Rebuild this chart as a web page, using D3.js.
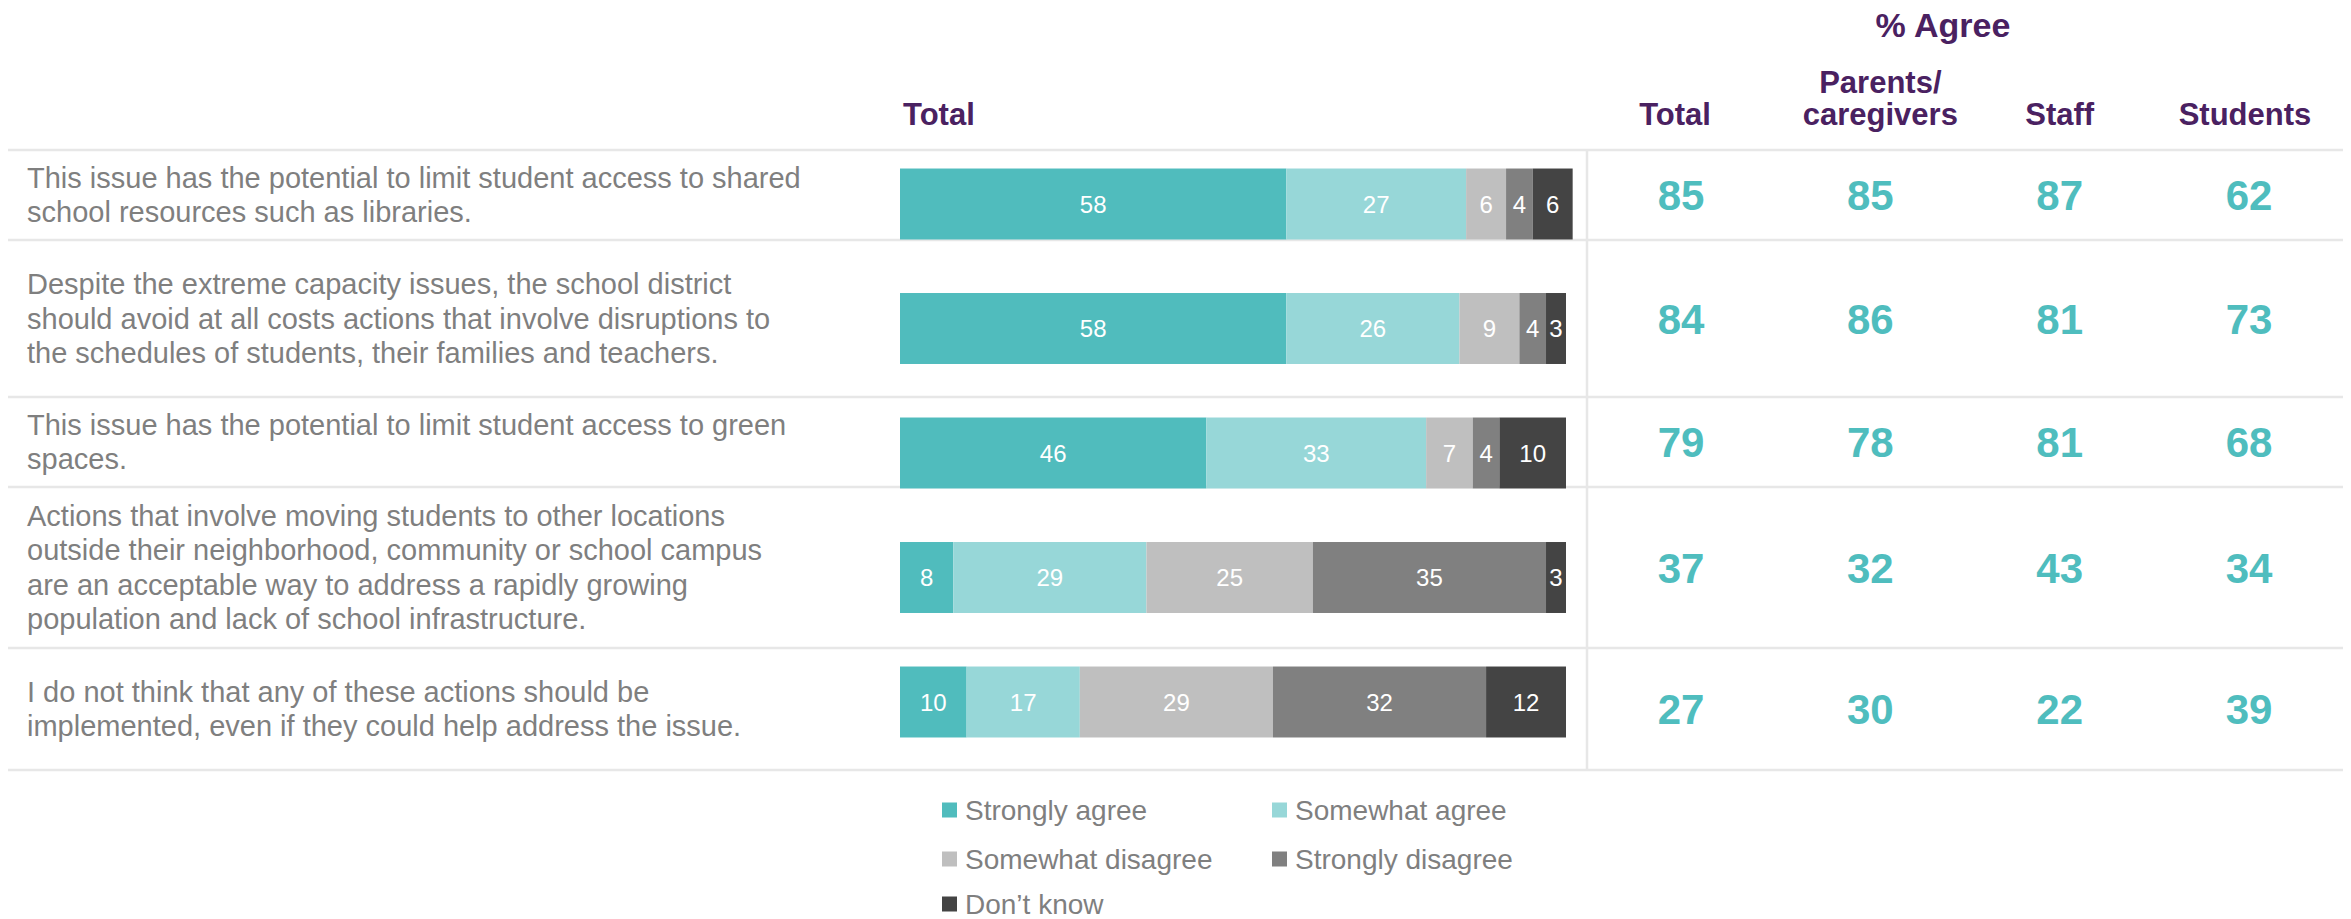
<!DOCTYPE html>
<html>
<head>
<meta charset="utf-8">
<script src="https://cdn.jsdelivr.net/npm/d3@7"></script>
<style>
  html, body { margin: 0; padding: 0; background: #fff; }
  svg { display: block; }
  text { font-family: "Liberation Sans", Arial, Helvetica, sans-serif; }
</style>
</head>
<body>
<svg id="chart" width="2351" height="919"></svg>
<script>
// ---- data ----
const statements = [
  ["This issue has the potential to limit student access to shared",
   "school resources such as libraries."],
  ["Despite the extreme capacity issues, the school district",
   "should avoid at all costs actions that involve disruptions to",
   "the schedules of students, their families and teachers."],
  ["This issue has the potential to limit student access to green",
   "spaces."],
  ["Actions that involve moving students to other locations",
   "outside their neighborhood, community or school campus",
   "are an acceptable way to address a rapidly growing",
   "population and lack of school infrastructure."],
  ["I do not think that any of these actions should be",
   "implemented, even if they could help address the issue."]
];
const responses = ["Strongly agree", "Somewhat agree", "Somewhat disagree", "Strongly disagree", "Don\u2019t know"];
const stronglyAgree    = [58, 58, 46, 8, 10];
const somewhatAgree    = [27, 26, 33, 29, 17];
const somewhatDisagree = [6, 9, 7, 25, 29];
const stronglyDisagree = [4, 4, 4, 35, 32];
const dontKnow         = [6, 3, 10, 3, 12];

const agreeGroups = ["Total", "Parents/\ncaregivers", "Staff", "Students"];
const agreeTotal   = [85, 84, 79, 37, 27];
const agreeParents = [85, 86, 78, 32, 30];
const agreeStaff   = [87, 81, 81, 43, 22];
const agreeStudents = [62, 73, 68, 34, 39];

// ---- styling / layout ----
const colors = ["#50bcbd", "#97d7d8", "#bfbfbf", "#808080", "#444444"];
const purple = "#4a2161";
const teal = "#4fbdbe";
const grey = "#7f7f7f";
const ruleColor = "#e7e7e7";
const rowEdges = [150, 240, 397, 487, 648, 770];
const lineGap = 34.5;

const svg = d3.select("#chart");
const keys = d3.range(statements.length);

const table = keys.map(i => ({
  idx: i,
  values: [stronglyAgree[i], somewhatAgree[i], somewhatDisagree[i], stronglyDisagree[i], dontKnow[i]]
}));
const agreeCols = [agreeTotal, agreeParents, agreeStaff, agreeStudents];

// scales
const x = d3.scaleLinear().domain([0, 100]).range([900, 1566]);
const y = d3.scaleBand().domain(keys).range([141.75, 764.25]).paddingInner(0.43).paddingOuter(0.215);
const colX = d3.scalePoint().domain(agreeGroups).range([1681, 2249]);
const headerNudge = [-6, 10, 0, -4];
const color = d3.scaleOrdinal().domain(responses).range(colors);

// stacked layout
const stack = d3.stack().keys(d3.range(responses.length)).value((d, k) => d.values[k]);
const series = stack(table);

// ---- row rules ----
svg.append("g").selectAll("line").data(rowEdges).join("line")
  .attr("x1", 8).attr("x2", 2343)
  .attr("y1", d => d).attr("y2", d => d)
  .attr("stroke", ruleColor).attr("stroke-width", 2.5);

svg.append("line")
  .attr("x1", 1587).attr("x2", 1587)
  .attr("y1", rowEdges[0]).attr("y2", rowEdges[rowEdges.length - 1])
  .attr("stroke", ruleColor).attr("stroke-width", 2.5);

// ---- statement labels ----
const rowCenter = i => (rowEdges[i] + rowEdges[i + 1]) / 2;
const lab = svg.append("g").selectAll("text").data(keys).join("text")
  .attr("fill", grey).attr("font-size", 29);
lab.each(function(i) {
  const lines = statements[i];
  const n = lines.length;
  d3.select(this).selectAll("tspan").data(lines).join("tspan")
    .attr("x", 27)
    .attr("y", (d, j) => rowCenter(i) + (j - (n - 1) / 2) * lineGap)
    .attr("dominant-baseline", "central")
    .text(d => d);
});

// ---- stacked bars ----
const segs = svg.append("g").selectAll("g").data(series).join("g")
  .attr("fill", (s, k) => color(responses[k]));
segs.selectAll("rect").data(s => s.map(d => ({ d, k: s.key }))).join("rect")
  .attr("x", o => x(o.d[0]))
  .attr("width", o => x(o.d[1]) - x(o.d[0]))
  .attr("y", o => y(o.d.data.idx))
  .attr("height", y.bandwidth());

segs.selectAll("text").data(s => s.map(d => ({ d, k: s.key }))).join("text")
  .attr("x", o => (x(o.d[0]) + x(o.d[1])) / 2)
  .attr("y", o => y(o.d.data.idx) + y.bandwidth() / 2)
  .attr("text-anchor", "middle")
  .attr("dominant-baseline", "central")
  .attr("fill", "#fff")
  .attr("font-size", 24)
  .text(o => o.d[1] - o.d[0]);

// ---- headers ----
svg.append("text")
  .attr("x", 903).attr("y", 125)
  .attr("fill", purple).attr("font-weight", "bold").attr("font-size", 31)
  .text("Total");

svg.append("text")
  .attr("x", 1943).attr("y", 37)
  .attr("text-anchor", "middle")
  .attr("fill", purple).attr("font-weight", "bold").attr("font-size", 34)
  .text("% Agree");

const heads = svg.append("g").selectAll("text").data(agreeGroups).join("text")
  .attr("text-anchor", "middle")
  .attr("fill", purple).attr("font-weight", "bold").attr("font-size", 31);
heads.each(function(g, gi) {
  const parts = g.split("\n");
  d3.select(this).selectAll("tspan").data(parts).join("tspan")
    .attr("x", colX(g) + headerNudge[gi])
    .attr("y", (p, j) => 125 - (parts.length - 1 - j) * 32)
    .text(p => p);
});

// ---- % agree numbers ----
agreeCols.forEach((col, ci) => {
  svg.append("g").selectAll("text").data(col).join("text")
    .attr("x", colX(agreeGroups[ci]))
    .attr("y", (v, i) => rowCenter(i) + 15)
    .attr("text-anchor", "middle")
    .attr("fill", teal).attr("font-weight", "bold").attr("font-size", 42)
    .text(v => v);
});

// ---- legend ----
const legX = [942, 1272];
const legY = [810, 859, 904];
const leg = svg.append("g").selectAll("g").data(responses).join("g")
  .attr("transform", (r, k) => `translate(${legX[k % 2]},${legY[Math.floor(k / 2)]})`);
leg.append("rect")
  .attr("x", 0).attr("y", -7.5).attr("width", 15).attr("height", 15)
  .attr("fill", r => color(r));
leg.append("text")
  .attr("x", 23).attr("y", 0)
  .attr("dominant-baseline", "central")
  .attr("fill", grey).attr("font-size", 28)
  .text(r => r);
</script>
</body>
</html>
